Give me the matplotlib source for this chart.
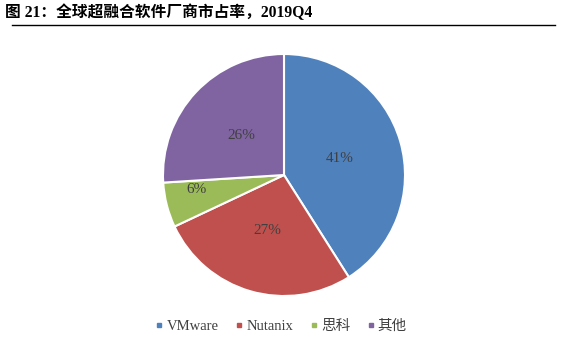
import matplotlib.pyplot as plt
from matplotlib.lines import Line2D

labels = ['VMware', 'Nutanix', '思科', '其他']
shares = [41, 27, 6, 26]
colors = ['#4F81BD', '#C0504D', '#9BBB59', '#8064A2']

plt.rcParams['font.family'] = ['Liberation Serif', 'Noto Sans CJK SC']

fig = plt.figure(figsize=(5.72, 3.57), dpi=100)
fig.text(0.008, 0.963, '图 21：全球超融合软件厂商市占率，2019Q4', fontsize=11.3,
         fontweight='bold', va='center')
fig.add_artist(Line2D([0.021, 0.97], [0.931, 0.931], color='black', lw=1.0))

ax = fig.add_axes([163 / 572, 61 / 357, 242 / 572, 242 / 357])
wedges, texts, autotexts = ax.pie(shares, colors=colors, startangle=90, counterclock=False,
                                  autopct='%d%%', pctdistance=0.48,
                                  wedgeprops=dict(edgecolor='white', linewidth=1.5),
                                  textprops=dict(fontsize=11, color='#404040'))
# small slice label sits further out
autotexts[2].set_position((-0.72, -0.12))
ax.set_xlim(-1.0, 1.0)
ax.set_ylim(-1.0, 1.0)
ax.set_aspect('equal')

handles = [Line2D([], [], marker='s', ls='', color=c, markersize=3) for c in colors]
fig.legend(handles, labels, loc='center', bbox_to_anchor=(0.49, 0.085), ncol=4, frameon=False,
           fontsize=10.5, labelcolor='#404040', handletextpad=0.1,
           columnspacing=1.0, handlelength=0.8)

fig.savefig('out.png', dpi=100)
